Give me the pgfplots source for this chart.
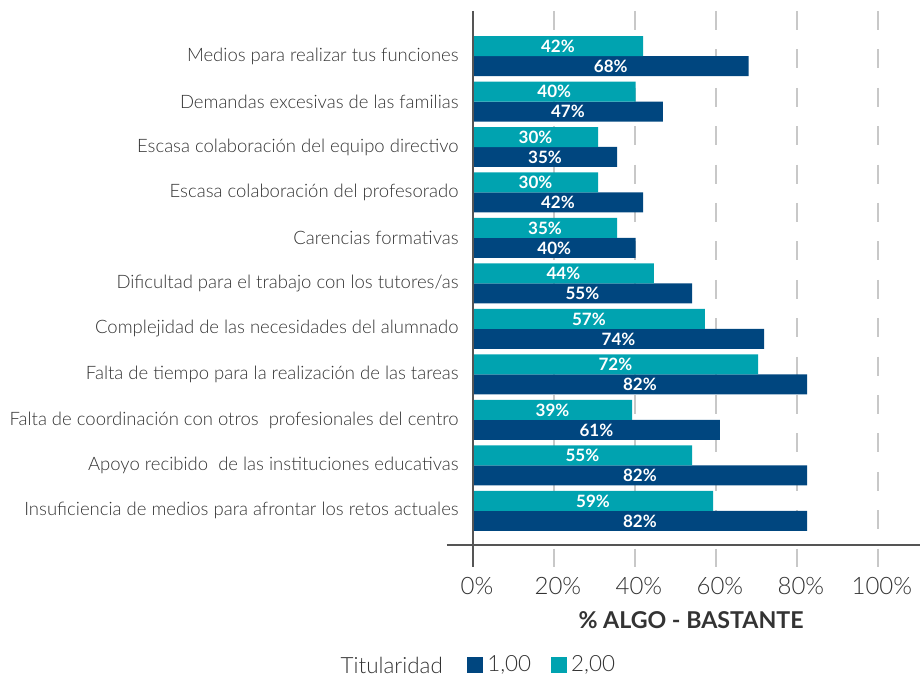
\documentclass[border=0pt]{standalone}
\usepackage{pgfplots}
\pgfplotsset{compat=1.18}
\usepackage{pgfplotstable}
\usepackage{fontspec}
\setmainfont{Lato}[UprightFont={* Light}, BoldFont={* Bold}]
\definecolor{darkblue}{HTML}{00467F}
\definecolor{tealc}{HTML}{00A3B0}
\definecolor{txt}{HTML}{333333}
\definecolor{gridc}{HTML}{C8C8C8}
\definecolor{axc}{HTML}{555555}

% y: 10 = top category (Medios), 0 = bottom category (Insuficiencia)
\pgfplotstableread{
idx val lab
10 68.1 68
9 46.9 47
8 35.6 35
7 42.0 42
6 40.2 40
5 54.1 55
4 71.9 74
3 82.5 82
2 61.0 61
1 82.5 82
0 82.5 82
}\darkdata
\pgfplotstableread{
idx val lab
10 42.0 42
9 40.2 40
8 30.9 30
7 30.9 30
6 35.6 35
5 44.7 44
4 57.3 57
3 70.4 72
2 39.3 39
1 54.1 55
0 59.3 59
}\tealdata

\begin{document}
\begin{tikzpicture}
\begin{axis}[
  name=ax,
  scale only axis, width=236.5pt, height=267pt,
  xmin=-6.4, xmax=110.4, ymin=-0.75, ymax=10.99,
  clip=false,
  axis line style={draw=none},
  xbar, bar width=10pt, bar shift=0pt,
  /pgf/number format/assume math mode=true,
  xtick={0,20,40,60,80,100},
  xticklabel={\pgfmathprintnumber{\tick}\%},
  xticklabel style={font=\fontsize{12}{14}\selectfont, text=txt, anchor=north, inner sep=0pt, yshift=-16pt, xshift=2pt},
  ytick={0,1,2,3,4,5,6,7,8,9,10},
  yticklabels={
    Insuficiencia de medios para afrontar los retos actuales,
    Apoyo recibido~ de las instituciones educativas,
    Falta de coordinación con otros~ profesionales del centro,
    Falta de tiempo para la realización de las tareas,
    Complejidad de las necesidades del alumnado,
    Dificultad para el trabajo con los tutores/as,
    Carencias formativas,
    Escasa colaboración del profesorado,
    Escasa colaboración del equipo directivo,
    Demandas excesivas de las familias,
    Medios para realizar tus funciones},
  yticklabel style={font=\fontsize{9.25}{11}\selectfont, text=txt, anchor=east, inner sep=0pt, xshift=6pt},
  major tick length=0pt,
  tick style={draw=none},
  xlabel={\% ALGO - BASTANTE},
  xlabel style={at={(axis description cs:0.516,0)}, anchor=center, yshift=-37.5pt, font=\bfseries\fontsize{11.6}{13}\selectfont, text=txt},
  legend style={at={(axis description cs:0.042,-0.2247)}, anchor=west, draw=none, fill=none, inner sep=0pt,
    font=\fontsize{11.2}{13}\selectfont, text=txt,
    /tikz/every even column/.append style={column sep=8pt}},
  legend columns=-1,
  legend image code/.code={\fill[#1,draw=none] (0pt,-4pt) rectangle (8pt,4pt);},
  nodes near coords={\pgfplotspointmeta\%},
  point meta=explicit symbolic,
  visualization depends on={rawx \as \rawx},
  nodes near coords style={anchor=center, text=white, font=\bfseries\fontsize{8.5}{10}\selectfont,
    shift={(axis direction cs:-0.5*\rawx,0)}},
]
% grid lines (drawn below bars)
\pgfplotsinvokeforeach{20,40,60,80,100}{
  \draw[gridc, line width=1.2pt, dash pattern=on 9.5pt off 9.7pt]
    (axis cs:#1,10.99) -- (axis cs:#1,-0.75) -- ++(0pt,-11pt);
}
\addplot[fill=darkblue, draw=none] table[x=val, y expr=\thisrow{idx}-0.2198, meta=lab] {\darkdata};
\addlegendentry{1,00}
\addplot[fill=tealc, draw=none] table[x=val, y expr=\thisrow{idx}+0.2198, meta=lab] {\tealdata};
\addlegendentry{2,00}
% axis lines
\draw[axc, line width=0.6pt] (axis cs:-6.4,-0.75) -- (axis cs:110.4,-0.75);
\draw[axc, line width=0.9pt] (axis cs:0,10.99) -- (axis cs:0,-0.75) -- ++(0pt,-11pt);
\node[anchor=east, inner sep=0pt, font=\fontsize{11.2}{13}\selectfont, text=txt] at (axis description cs:-0.008,-0.2247) {Titularidad};
\end{axis}
\pgfresetboundingbox
\path[use as bounding box] ([xshift=-223.5pt,yshift=-65pt]ax.south west) rectangle ([yshift=5.5pt]ax.north east);
\end{tikzpicture}
\end{document}
